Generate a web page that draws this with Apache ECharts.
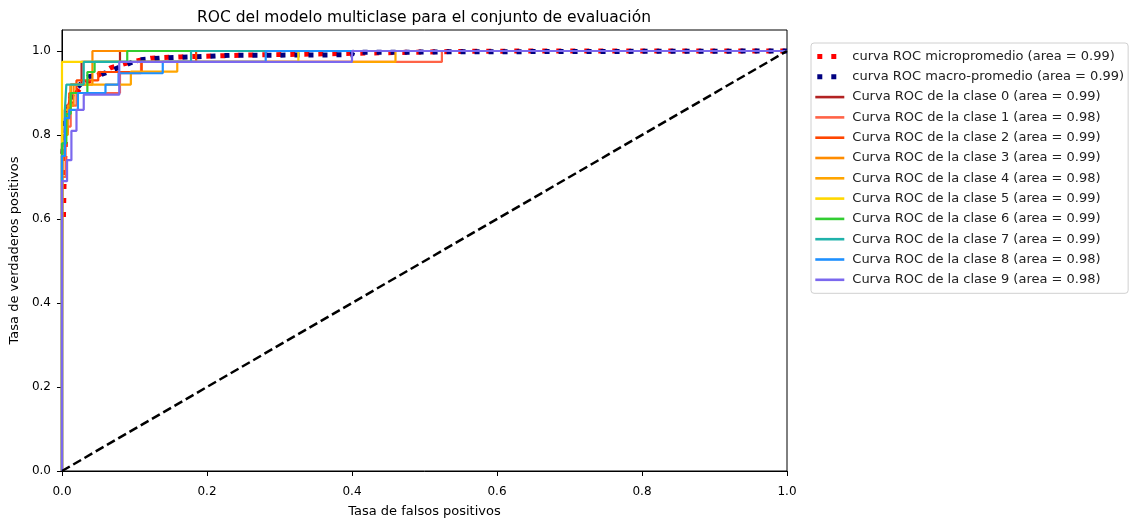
<!DOCTYPE html>
<html>
<head>
<meta charset="utf-8">
<script src="https://cdn.jsdelivr.net/npm/echarts@6/dist/echarts.min.js"></script>
<style>
html,body{margin:0;padding:0;background:#fff;}
#chart{width:1134px;height:523px;}
</style>
</head>
<body>
<div id="chart"></div>
<script>
// ---- data ----
const titleText = 'ROC del modelo multiclase para el conjunto de evaluación';
const xLabel = 'Tasa de falsos positivos';
const yLabel = 'Tasa de verdaderos positivos';
const tickValues = [0, 0.2, 0.4, 0.6, 0.8, 1.0];

const microName = 'curva ROC micropromedio (area = 0.99)';
const macroName = 'curva ROC macro-promedio (area = 0.99)';
const classNames = [
  'Curva ROC de la clase 0 (area = 0.99)',
  'Curva ROC de la clase 1 (area = 0.98)',
  'Curva ROC de la clase 2 (area = 0.99)',
  'Curva ROC de la clase 3 (area = 0.99)',
  'Curva ROC de la clase 4 (area = 0.98)',
  'Curva ROC de la clase 5 (area = 0.99)',
  'Curva ROC de la clase 6 (area = 0.99)',
  'Curva ROC de la clase 7 (area = 0.99)',
  'Curva ROC de la clase 8 (area = 0.98)',
  'Curva ROC de la clase 9 (area = 0.98)'
];
const classColors = ['#B22222','#FF6347','#FF4500','#FF8C00','#FFA500','#FFD700','#32CD32','#20B2AA','#1E90FF','#7B68EE'];

const microCurve = [[0.002,0.6],[0.003,0.7],[0.005,0.8],[0.008,0.85],[0.012,0.88],[0.02,0.9],[0.026,0.913],[0.04,0.932],[0.067,0.96],[0.095,0.974],[0.123,0.983],[0.164,0.986],[0.25,0.99],[0.35,0.993],[0.45,0.996],[0.55,0.999],[0.65,1],[1,1]];
const macroCurve = [[0.001,0.75],[0.002,0.78],[0.004,0.83],[0.008,0.87],[0.015,0.9],[0.025,0.92],[0.037,0.939],[0.054,0.944],[0.07,0.955],[0.088,0.967],[0.105,0.979],[0.143,0.984],[0.18,0.986],[0.237,0.99],[0.28,0.99],[0.4,0.991],[0.401,0.997],[0.46,0.997],[0.524,0.998],[0.525,1],[1,1]];

const class0 = [[0,0],[0,0.8],[0.005,0.8],[0.005,0.87],[0.012,0.87],[0.012,0.92],[0.027,0.92],[0.027,0.974],[0.08,0.974],[0.08,1],[1,1]];
const class1 = [[0,0],[0,0.7],[0.005,0.7],[0.005,0.82],[0.012,0.82],[0.012,0.87],[0.02,0.87],[0.02,0.9],[0.08,0.9],[0.08,0.947],[0.109,0.947],[0.109,0.974],[0.524,0.974],[0.524,1],[1,1]];
const class2 = [[0,0],[0,0.78],[0.004,0.78],[0.004,0.86],[0.01,0.86],[0.01,0.9],[0.02,0.9],[0.02,0.93],[0.05,0.93],[0.05,0.95],[0.11,0.95],[0.11,0.974],[0.185,0.974],[0.185,1],[1,1]];
const class3 = [[0,0],[0,0.3],[0.001,0.3],[0.001,0.8],[0.008,0.8],[0.008,0.87],[0.016,0.87],[0.016,0.92],[0.042,0.92],[0.042,1],[1,1]];
const class4 = [[0,0],[0,0.75],[0.004,0.75],[0.004,0.86],[0.012,0.86],[0.012,0.92],[0.095,0.92],[0.095,0.951],[0.159,0.951],[0.159,0.974],[0.46,0.974],[0.46,1],[1,1]];
const class5 = [[0,0],[0,0.974],[0.326,0.974],[0.326,1],[1,1]];
const class6 = [[0,0],[0,0.78],[0.006,0.78],[0.006,0.85],[0.012,0.85],[0.012,0.9],[0.035,0.9],[0.035,0.95],[0.045,0.95],[0.045,0.974],[0.09,0.974],[0.09,1],[1,1]];
const class7 = [[0,0],[0,0.75],[0.004,0.75],[0.004,0.86],[0.006,0.86],[0.006,0.92],[0.03,0.92],[0.03,0.974],[0.178,0.974],[0.178,1],[1,1]];
const class8 = [[0,0],[0,0.75],[0.004,0.75],[0.004,0.84],[0.01,0.84],[0.01,0.86],[0.022,0.86],[0.022,0.9],[0.06,0.9],[0.06,0.92],[0.078,0.92],[0.078,0.947],[0.139,0.947],[0.139,0.974],[0.281,0.974],[0.281,1],[1,1]];
const class9 = [[0,0],[0,0.69],[0.007,0.69],[0.007,0.74],[0.013,0.74],[0.013,0.81],[0.02,0.81],[0.02,0.86],[0.03,0.86],[0.03,0.896],[0.079,0.896],[0.079,0.974],[0.4,0.974],[0.4,1],[1,1]];
const classCurves = [class0,class1,class2,class3,class4,class5,class6,class7,class8,class9];

const diagonal = [[0,0],[1,1]];

// ---- chart ----
const FONT = 'DejaVu Sans';
const chart = echarts.init(document.getElementById('chart'), null, {renderer:'canvas'});

const dotStyle = {width: 5, type: [5, 9], dashOffset: -2, cap: 'butt'};

const series = [];
series.push({
  name: microName, type: 'line', data: microCurve, symbol: 'none', showSymbol: false,
  color: '#FF0000', lineStyle: Object.assign({color: '#FF0000'}, dotStyle),
  z: 2, animation: false, clip: true
});
series.push({
  name: macroName, type: 'line', data: macroCurve, symbol: 'none', showSymbol: false,
  color: '#000080', lineStyle: Object.assign({color: '#000080'}, dotStyle),
  z: 2.1, animation: false, clip: true
});
classCurves.forEach((c, i) => {
  series.push({
    name: classNames[i], type: 'line', data: c, symbol: 'none', showSymbol: false,
    color: classColors[i], lineStyle: {width: 2.2, color: classColors[i]},
    z: 3 + i * 0.01, animation: false, clip: true
  });
});
series.push({
  name: 'diag', type: 'line', data: diagonal, symbol: 'none', showSymbol: false,
  color: '#000', lineStyle: {width: 2.5, color: '#000', type: [9, 4]},
  z: 5, animation: false, clip: true
});

const fmt = v => (Math.abs(v - Math.round(v * 5) / 5) < 1e-9 && v <= 1.0001) ? v.toFixed(1) : '';

// two square dots, as in the reference legend
const dotsIcon = 'path://M0,0M29,13M2,4h5v5h-5zM16,4h5v5h-5z';
const legendData = [
  {name: microName, icon: dotsIcon, itemStyle: {opacity: 1}},
  {name: macroName, icon: dotsIcon, itemStyle: {opacity: 1}}
].concat(classNames.map(n => ({name: n})));

chart.setOption({
  animation: false,
  backgroundColor: '#fff',
  title: {
    text: titleText, left: 419, top: 5, textAlign: 'center',
    textStyle: {fontFamily: FONT, fontSize: 15.5, fontWeight: 'normal', color: '#000'}
  },
  grid: {left: 61, right: 347, top: 30, bottom: 47, show: true, borderColor: '#000', borderWidth: 1, backgroundColor: 'transparent'},
  legend: {
    orient: 'vertical', left: 811, top: 43,
    data: legendData,
    itemWidth: 29, itemHeight: 13, itemGap: 7.3,
    padding: [7, 4, 7, 3],
    borderColor: '#d0d0d0', borderWidth: 1, borderRadius: 3,
    backgroundColor: '#fff',
    itemStyle: {opacity: 0},
    lineStyle: {width: 2.6},
    textStyle: {fontFamily: FONT, fontSize: 13, color: '#222', padding: [0,0,0,3]},
    selectedMode: false
  },
  xAxis: {
    type: 'value', min: 0, max: 1, interval: 0.2,
    name: xLabel, nameLocation: 'middle', nameGap: 34,
    nameTextStyle: {fontFamily: FONT, fontSize: 13, color: '#000'},
    axisLine: {show: true, lineStyle: {color: '#000', width: 1}},
    axisTick: {show: true, length: 5, lineStyle: {color: '#000'}, customValues: tickValues},
    axisLabel: {fontFamily: FONT, fontSize: 12, color: '#000', margin: 15, formatter: fmt, customValues: tickValues},
    splitLine: {show: false}
  },
  yAxis: {
    type: 'value', min: 0, max: 1.05, interval: 0.2,
    name: yLabel, nameLocation: 'middle', nameGap: 39,
    nameTextStyle: {fontFamily: FONT, fontSize: 13, color: '#000'},
    axisLine: {show: true, lineStyle: {color: '#000', width: 1}},
    axisTick: {show: true, length: 5, lineStyle: {color: '#000'}, customValues: tickValues},
    axisLabel: {fontFamily: FONT, fontSize: 12, color: '#000', margin: 11, formatter: fmt, customValues: tickValues},
    splitLine: {show: false}
  },
  series: series
});
</script>
</body>
</html>
